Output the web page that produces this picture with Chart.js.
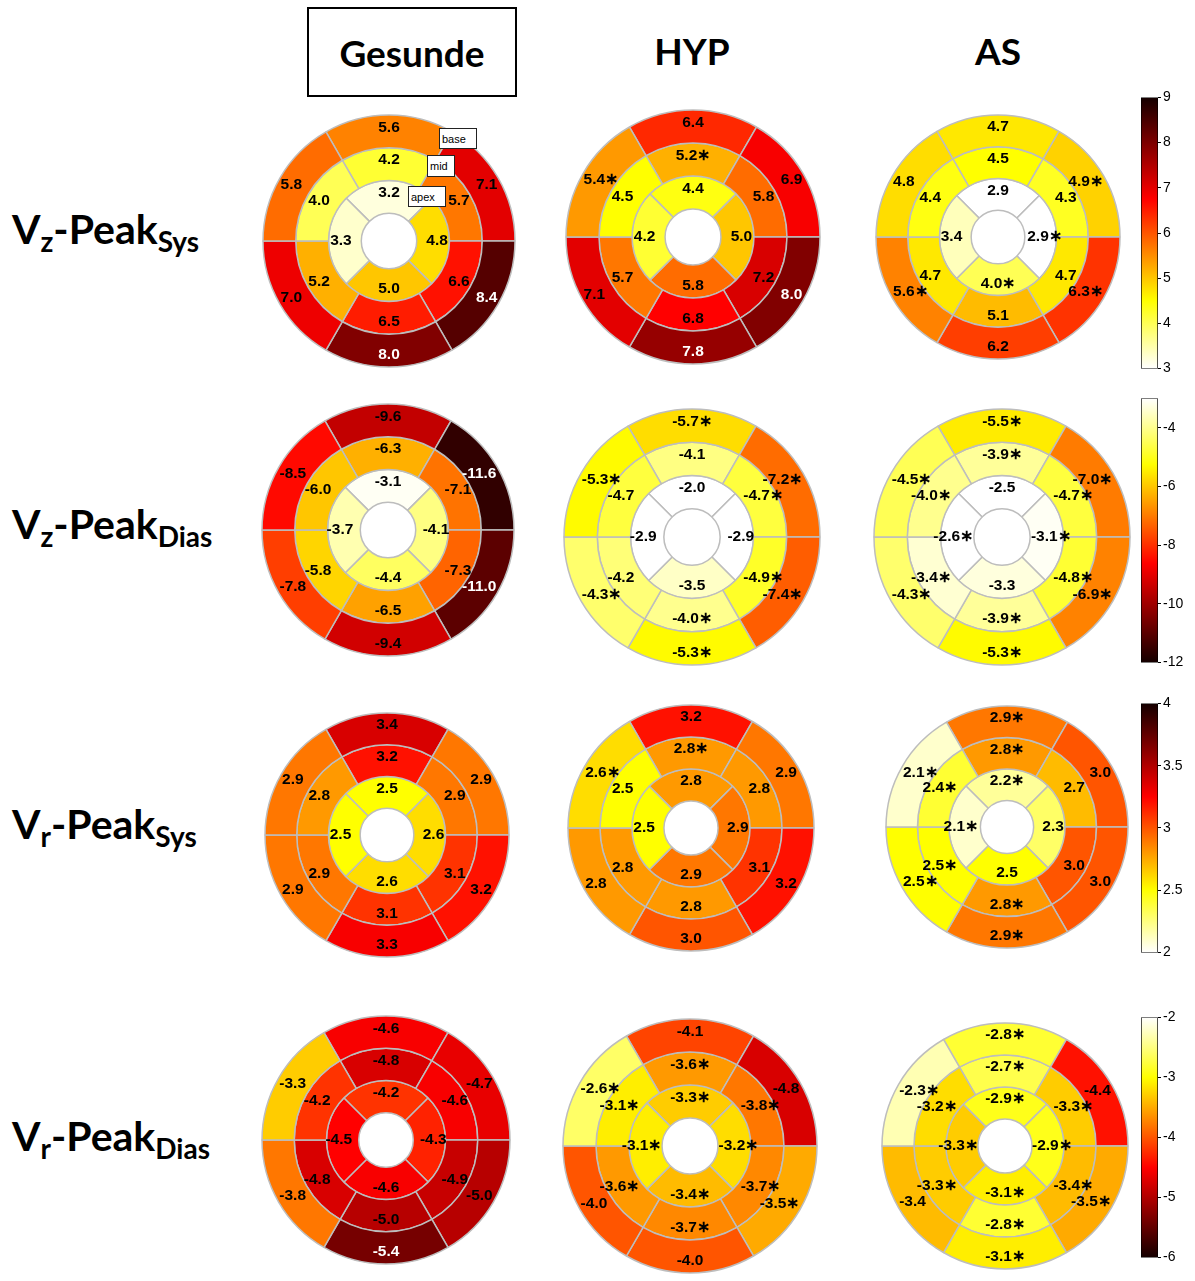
<!DOCTYPE html>
<html lang="de">
<head>
<meta charset="UTF-8">
<title>Bullseye Vz / Vr Peak</title>
<script src="https://cdn.jsdelivr.net/npm/chart.js"></script>
<style>
  body { margin: 0; background: #fff; }
  #page { position: relative; width: 1195px; height: 1281px; overflow: hidden; font-family: Lato, 'Open Sans', sans-serif; color: #000; }
  .head { position: absolute; top: 7px; height: 90px; width: 210px; font-weight: 700; font-size: 37px; line-height: 88px; text-align: center; box-sizing: border-box; }
  #boxG { border: 2px solid #000; }
  .rowlab { position: absolute; left: 12px; font-weight: 700; font-size: 41px; line-height: 48px; white-space: nowrap; }
  .rowlab sub { font-size: 28px; vertical-align: -0.3em; line-height: 0; }
  canvas { position: absolute; }
  .tag { position: absolute; background: #fff; border: 1px solid #222; font: 11px 'Liberation Sans', Arial, sans-serif; line-height: 20px; padding-left: 2px; box-sizing: border-box; }
</style>
</head>
<body>
<div id="page">
  <div class="head" id="boxG" style="left:307px">Gesunde</div>
  <div class="head" style="left:587px">HYP</div>
  <div class="head" style="left:893px">AS</div>

  <div class="rowlab" style="top:205px">V<sub>z</sub>-Peak<sub>Sys</sub></div>
  <div class="rowlab" style="top:500px">V<sub>z</sub>-Peak<sub>Dias</sub></div>
  <div class="rowlab" style="top:800px">V<sub>r</sub>-Peak<sub>Sys</sub></div>
  <div class="rowlab" style="top:1112px">V<sub>r</sub>-Peak<sub>Dias</sub></div>
</div>

<script>
  // every plot has 16 segments: base ring (6), mid ring (6), apex ring (4),
  // each ring listed clockwise starting at 12 o'clock
  const groups = ['Gesunde', 'HYP', 'AS'];

  // Vz-Peak Sys
  const vzSysGesunde = [5.6, 7.1, 8.4, 8.0, 7.0, 5.8,   4.2, 5.7, 6.6, 6.5, 5.2, 4.0,   3.2, 4.8, 5.0, 3.3];
  const vzSysHyp     = [6.4, 6.9, 8.0, 7.8, 7.1, 5.4,   5.2, 5.8, 7.2, 6.8, 5.7, 4.5,   4.4, 5.0, 5.8, 4.2];
  const vzSysAs      = [4.7, 4.9, 6.3, 6.2, 5.6, 4.8,   4.5, 4.3, 4.7, 5.1, 4.7, 4.4,   2.9, 2.9, 4.0, 3.4];
  const vzSysHypSig  = [0, 0, 0, 0, 0, 1,   1, 0, 0, 0, 0, 0,   0, 0, 0, 0];
  const vzSysAsSig   = [0, 1, 1, 0, 1, 0,   0, 0, 0, 0, 0, 0,   0, 1, 1, 0];

  // Vz-Peak Dias
  const vzDiasGesunde = [-9.6, -11.6, -11.0, -9.4, -7.8, -8.5,   -6.3, -7.1, -7.3, -6.5, -5.8, -6.0,   -3.1, -4.1, -4.4, -3.7];
  const vzDiasHyp     = [-5.7, -7.2, -7.4, -5.3, -4.3, -5.3,   -4.1, -4.7, -4.9, -4.0, -4.2, -4.7,   -2.0, -2.9, -3.5, -2.9];
  const vzDiasAs      = [-5.5, -7.0, -6.9, -5.3, -4.3, -4.5,   -3.9, -4.7, -4.8, -3.9, -3.4, -4.0,   -2.5, -3.1, -3.3, -2.6];
  const vzDiasHypSig  = [1, 1, 1, 1, 1, 1,   0, 1, 1, 1, 0, 0,   0, 0, 0, 0];
  const vzDiasAsSig   = [1, 1, 1, 1, 1, 1,   1, 1, 1, 1, 1, 1,   0, 1, 0, 1];

  // Vr-Peak Sys
  const vrSysGesunde = [3.4, 2.9, 3.2, 3.3, 2.9, 2.9,   3.2, 2.9, 3.1, 3.1, 2.9, 2.8,   2.5, 2.6, 2.6, 2.5];
  const vrSysHyp     = [3.2, 2.9, 3.2, 3.0, 2.8, 2.6,   2.8, 2.8, 3.1, 2.8, 2.8, 2.5,   2.8, 2.9, 2.9, 2.5];
  const vrSysAs      = [2.9, 3.0, 3.0, 2.9, 2.5, 2.1,   2.8, 2.7, 3.0, 2.8, 2.5, 2.4,   2.2, 2.3, 2.5, 2.1];
  const vrSysHypSig  = [0, 0, 0, 0, 0, 1,   1, 0, 0, 0, 0, 0,   0, 0, 0, 0];
  const vrSysAsSig   = [1, 0, 0, 1, 1, 1,   1, 0, 0, 1, 1, 1,   1, 0, 0, 1];

  // Vr-Peak Dias
  const vrDiasGesunde = [-4.6, -4.7, -5.0, -5.4, -3.8, -3.3,   -4.8, -4.6, -4.9, -5.0, -4.8, -4.2,   -4.2, -4.3, -4.6, -4.5];
  const vrDiasHyp     = [-4.1, -4.8, -3.5, -4.0, -4.0, -2.6,   -3.6, -3.8, -3.7, -3.7, -3.6, -3.1,   -3.3, -3.2, -3.4, -3.1];
  const vrDiasAs      = [-2.8, -4.4, -3.5, -3.1, -3.4, -2.3,   -2.7, -3.3, -3.4, -2.8, -3.3, -3.2,   -2.9, -2.9, -3.1, -3.3];
  const vrDiasHypSig  = [0, 0, 1, 0, 0, 1,   1, 1, 1, 1, 1, 1,   1, 1, 1, 1];
  const vrDiasAsSig   = [1, 0, 1, 1, 0, 1,   1, 1, 1, 1, 1, 1,   1, 1, 1, 1];

  const noSig = new Array(16).fill(0);

  // colour scales: value shown white and value shown black, plus colorbar ticks
  const cbWhite = [3, -3, 2, -2];
  const cbDark = [9, -12, 4, -6];
  const cbTicks = [[3, 4, 5, 6, 7, 8, 9], [-12, -10, -8, -6, -4], [2, 2.5, 3, 3.5, 4], [-6, -5, -4, -3, -2]];

  const rowVals = [[vzSysGesunde, vzSysHyp, vzSysAs], [vzDiasGesunde, vzDiasHyp, vzDiasAs],
                   [vrSysGesunde, vrSysHyp, vrSysAs], [vrDiasGesunde, vrDiasHyp, vrDiasAs]];
  const rowSig = [[noSig, vzSysHypSig, vzSysAsSig], [noSig, vzDiasHypSig, vzDiasAsSig],
                  [noSig, vrSysHypSig, vrSysAsSig], [noSig, vrDiasHypSig, vrDiasAsSig]];

  // layout (pixels)
  const plotCx = [[389, 693, 998], [388, 692, 1002], [387, 691, 1007], [386, 690, 1005]];
  const plotCy = [[241, 237, 237], [530, 537, 537], [835, 828, 827], [1140, 1146, 1146]];
  const plotR = [[126, 127, 122], [126, 128, 128], [122, 123, 121], [124, 127, 123]];
  const cbTop = [97, 398, 703, 1017];
  const cbBottom = [369, 663, 953, 1258];
  const cbLeft = 1141, cbWidth = 17;

  const page = document.getElementById('page');

  // flipped MATLAB "hot": 0 -> white, 1 -> black
  function hotRev(t) {
    t = Math.min(Math.max(t, 0), 1);
    const s = 1 - t;
    const r = Math.min(1, (s + 0.03) / 0.39);
    const g = Math.min(1, Math.max(0, (s - 0.375) / 0.375));
    const b = Math.max(0, (s - 0.75) / 0.25);
    return 'rgb(' + Math.round(r * 255) + ',' + Math.round(g * 255) + ',' + Math.round(b * 255) + ')';
  }

  const segLabels = {
    id: 'segLabels',
    afterDatasetsDraw(chart) {
      const ctx = chart.ctx;
      ctx.save();
      ctx.font = 'bold 15.5px "Liberation Sans", Arial, sans-serif';
      ctx.textAlign = 'center';
      ctx.textBaseline = 'middle';
      chart.data.datasets.forEach((ds, di) => {
        chart.getDatasetMeta(di).data.forEach((arc, i) => {
          const p = arc.getProps(['x', 'y', 'startAngle', 'endAngle', 'innerRadius', 'outerRadius']);
          const a = (p.startAngle + p.endAngle) / 2;
          const r = p.innerRadius + 0.62 * (p.outerRadius - p.innerRadius);
          const txt = ds.texts[i];
          let dx = Math.cos(a) * r;
          const dy = Math.sin(a) * r;
          if (di === 0) {
            // keep text of the outer ring inside the disc
            const lim = Math.sqrt(p.outerRadius * p.outerRadius - dy * dy) - 4 - ctx.measureText(txt).width / 2;
            if (Math.abs(dx) > lim) dx = Math.sign(dx) * lim;
          }
          ctx.fillStyle = ds.textColors[i];
          ctx.fillText(txt, p.x + dx, p.y + dy);
        });
      });
      ctx.restore();
    }
  };

  function makeCanvas(left, top, w, h) {
    const c = document.createElement('canvas');
    c.width = w; c.height = h;
    c.style.left = left + 'px'; c.style.top = top + 'px';
    page.appendChild(c);
    return c;
  }

  const rings = [[0, 6, -30], [6, 12, -30], [12, 16, -45]];

  rowVals.forEach((plots, row) => {
    const white = cbWhite[row], dark = cbDark[row];
    const level = v => (v - white) / (dark - white);
    plots.forEach((vals, col) => {
      const sig = rowSig[row][col];
      const R = plotR[row][col];
      const half = R + 14;
      const cv = makeCanvas(plotCx[row][col] - half, plotCy[row][col] - half, 2 * half, 2 * half);
      const datasets = rings.map(([from, to, rot]) => {
        const v = vals.slice(from, to), s = sig.slice(from, to);
        return {
          data: v.map(() => 1),
          rotation: rot,
          backgroundColor: v.map(x => hotRev(level(x))),
          texts: v.map((x, i) => x.toFixed(1) + (s[i] ? '\u2217' : '')),
          textColors: v.map(x => level(x) >= 0.78 ? '#fff' : '#000')
        };
      });
      new Chart(cv, {
        type: 'doughnut',
        data: { labels: vals.slice(0, 6).map((_, i) => groups[col] + ' ' + (i + 1)), datasets },
        options: {
          responsive: false,
          animation: false,
          events: [],
          radius: R,
          cutout: '22%',
          borderColor: '#bdbdbd',
          borderWidth: 1.5,
          hoverOffset: 0,
          layout: { padding: 0 },
          plugins: { legend: { display: false }, tooltip: { enabled: false } }
        },
        plugins: [segLabels]
      });
    });

    // colorbar
    const lo = Math.min(white, dark), hi = Math.max(white, dark);
    const cv = makeCanvas(cbLeft, cbTop[row] - 10, cbWidth + 32, cbBottom[row] - cbTop[row] + 20);
    new Chart(cv, {
      type: 'bar',
      data: {
        labels: [''],
        datasets: [{
          data: [[lo, hi]],
          backgroundColor: (ctx) => {
            const chart = ctx.chart;
            if (!chart.chartArea) return '#fff';
            const y = chart.scales.y;
            const g = chart.ctx.createLinearGradient(0, y.getPixelForValue(white), 0, y.getPixelForValue(dark));
            [0, 0.25, 0.625, 1].forEach(t => g.addColorStop(t, hotRev(t)));
            return g;
          },
          borderColor: '#000',
          borderWidth: 1,
          borderSkipped: false,
          barPercentage: 1,
          categoryPercentage: 1
        }]
      },
      options: {
        responsive: false,
        animation: false,
        events: [],
        layout: { padding: { top: 10, bottom: 10, left: 0, right: 0 } },
        scales: {
          x: { display: false },
          y: {
            position: 'right',
            min: lo,
            max: hi,
            afterFit: s => { s.width = 32; },
            afterBuildTicks: s => { s.ticks = cbTicks[row].map(v => ({ value: v })); },
            grid: { display: true, drawOnChartArea: false, tickLength: 3, tickColor: '#000' },
            border: { display: false },
            ticks: { color: '#000', padding: 2, font: { size: 14, family: 'Liberation Sans' }, callback: v => String(v) }
          }
        },
        plugins: { legend: { display: false }, tooltip: { enabled: false } }
      }
    });
  });

  // ring name tags in the first plot
  [['base', 439, 128, 38, 21], ['mid', 427, 155, 28, 22], ['apex', 408, 186, 38, 21]].forEach(([txt, x, y, w, h]) => {
    const d = document.createElement('div');
    d.className = 'tag';
    d.textContent = txt;
    d.style.left = x + 'px'; d.style.top = y + 'px';
    d.style.width = w + 'px'; d.style.height = h + 'px';
    page.appendChild(d);
  });
</script>
</body>
</html>
